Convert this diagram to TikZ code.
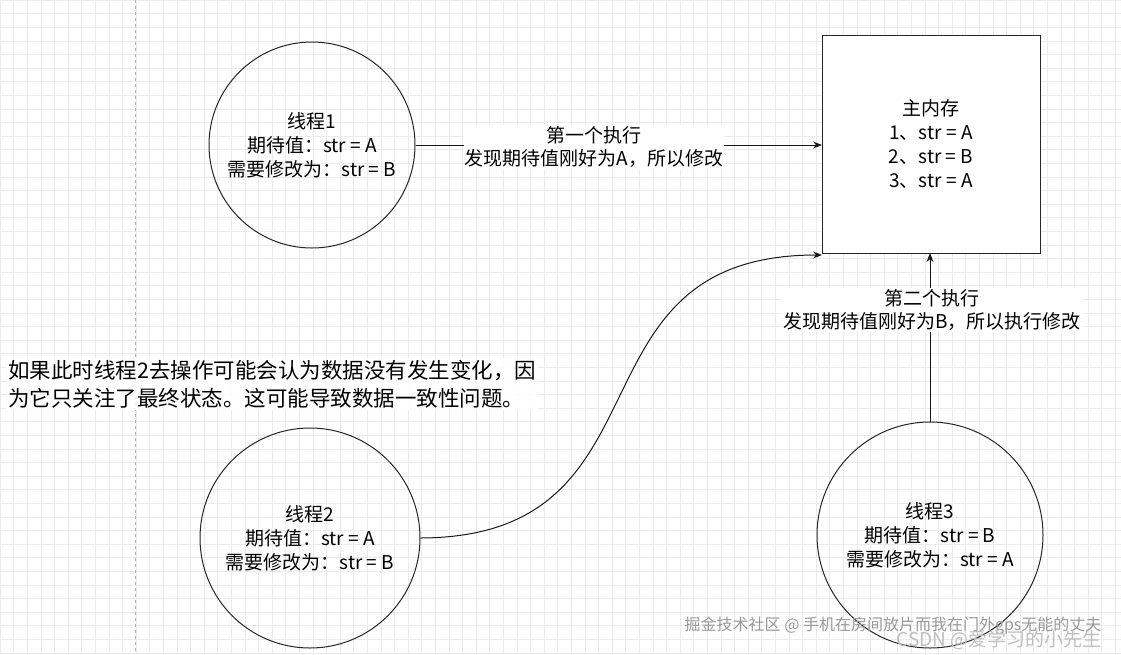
\documentclass[tikz,border=0pt]{standalone}
\usepackage{fontspec}
\usetikzlibrary{arrows.meta}
\setmainfont{Noto Sans CJK SC}
\tikzset{
  thread/.style={circle,draw=black!85,line width=1pt,minimum size=#1,align=center,font=\fontsize{19}{24}\selectfont,inner sep=0pt},
  lbl/.style={fill=white,align=center,font=\fontsize{19}{23}\selectfont,inner sep=1pt},
  conn/.style={-{Stealth[length=9pt,width=7pt]},line width=1pt,black!90},
}
\begin{document}
\begin{tikzpicture}[x=1pt,y=-1pt]
\useasboundingbox (0,0) rectangle (1121,654);
\fill[white] (0,0) rectangle (1121,654);
\foreach \x in {0,13.6,...,1121} \draw[black!8,line width=0.5pt] (\x,0) -- (\x,654);
\foreach \y in {0,13.6,...,654} \draw[black!8,line width=0.5pt] (0,\y) -- (1121,\y);
\draw[black!30,dashed,line width=0.6pt] (135,0) -- (135,654);
\node[thread=206pt] (t1) at (312,145) {线程1\\期待值：str = A\\需要修改为：str = B};
\node[thread=220pt] (t2) at (310,538) {线程2\\期待值：str = A\\需要修改为：str = B};
\node[thread=226pt] (t3) at (930,535) {线程3\\期待值：str = B\\需要修改为：str = A};
\node[draw=black!85,line width=1pt,minimum width=218pt,minimum height=218pt,align=center,font=\fontsize{19}{24}\selectfont,fill=white] (mem) at (931,144) {主内存\\1、str = A\\2、str = B\\3、str = A};
\coordinate (m1) at (822,145);
\coordinate (m2) at (822,255);
\coordinate (m3) at (930,253);
\draw[conn] (t1.east) -- (m1);
\node[lbl] (l1) at (594,147) {第一个执行\\发现期待值刚好为A，所以修改};
\draw[conn] (t2.east) .. controls (680,537) and (560,255) .. (m2);
\draw[conn] (t3.north) -- (m3);
\node[lbl] (l3) at (932,310) {第二个执行\\发现期待值刚好为B，所以执行修改};
\node[fill=white,fill opacity=0.85,text opacity=1,align=left,anchor=west,font=\fontsize{21.5}{28}\selectfont,inner sep=2pt] (note) at (6,384) {如果此时线程2去操作可能会认为数据没有发生变化，因\\为它只关注了最终状态。这可能导致数据一致性问题。};
\node[text=black!40,font=\fontsize{16}{16}\selectfont,anchor=east] (wm1) at (1105,626) {掘金技术社区 @ 手机在房间放片而我在门外gps无能的丈夫};
\node[text=black!25,font=\fontsize{19}{19}\selectfont,anchor=east] (wm2) at (1105,640) {CSDN @爱学习的小先生};
\end{tikzpicture}
\end{document}
